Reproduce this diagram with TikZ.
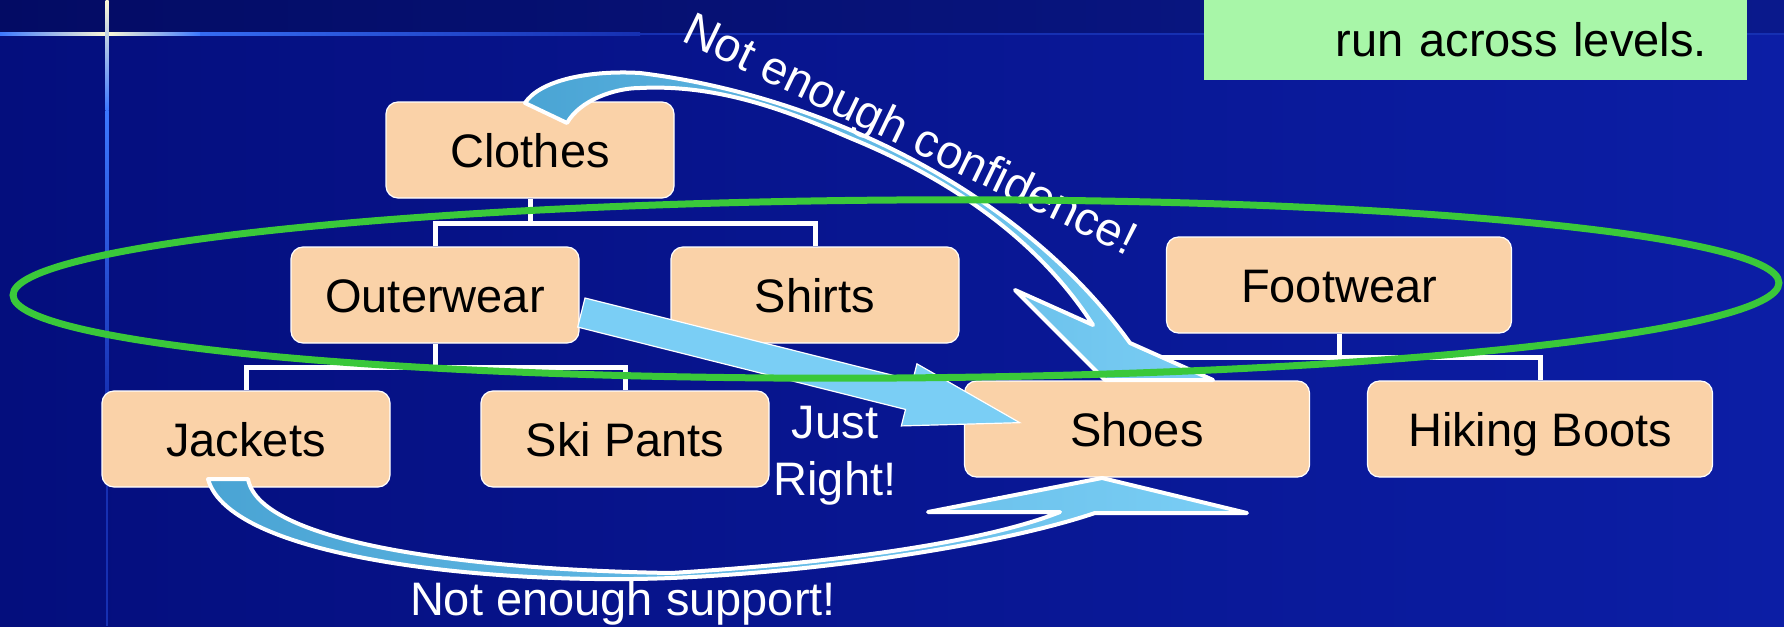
\documentclass[tikz,border=0pt]{standalone}
\usepackage{fontspec}
\setmainfont{Liberation Sans}
\usepackage{xcolor}
\usepackage{tikz}
\usetikzlibrary{calc}
\usetikzlibrary{decorations.text}
\newcommand{\bigtxt}{\fontsize{47}{57}\selectfont}
\definecolor{peach}{RGB}{250,210,168}
\definecolor{skyarrow}{RGB}{122,206,245}
\definecolor{darkarrow}{RGB}{74,164,212}
\definecolor{ringgreen}{RGB}{58,200,58}
\definecolor{notegreen}{RGB}{168,246,168}
\definecolor{bgleft}{RGB}{4,14,125}
\definecolor{bgright}{RGB}{12,30,165}
\definecolor{glow}{RGB}{60,120,255}
\definecolor{glowdim}{RGB}{22,48,178}
\definecolor{glowhot}{RGB}{255,250,215}
\tikzstyle{box} = [rectangle, draw=white, line width=1.2pt, fill=peach, rounded corners=12pt, minimum width=288pt, minimum height=96pt, inner sep=0pt, font=\bigtxt, text height=34pt, text depth=0pt]
\tikzstyle{wbox} = [box, minimum width=345pt]
\tikzstyle{conn} = [draw=white, line width=5pt]
\tikzstyle{blk} = [draw=white, line width=4pt, line join=round, left color=darkarrow, right color=skyarrow]
\tikzstyle{lab} = [text=white, font=\bigtxt, inner sep=0pt]
\tikzstyle{note} = [rectangle, fill=notegreen, anchor=south east, text width=463pt, align=right, inner xsep=40pt, inner ysep=0pt, minimum height=80pt, font=\bigtxt, text height=34pt, text depth=0pt]

\begin{document}
\begin{tikzpicture}
    [x=1pt, y=-1pt]
    \useasboundingbox (0,0) rectangle (1784,626);
    % backdrop
    \shade[left color=bgleft, right color=bgright] (0,0) rectangle (1784,626);
    \shade[left color=bgleft!80!black, right color=bgright!85!black] (0,0) rectangle (1784,33);
    \draw[line width=2pt, glowdim] (0,34) -- (1784,34);
    \draw[line width=2pt, glowdim] (107,0) -- (107,626);
    \shade[left color=glow, right color=glowdim] (107,32.5) rectangle (640,35.5);
    \shade[left color=glow, right color=glowhot] (0,32.5) rectangle (107,35.5);
    \shade[left color=glowhot, right color=glow] (107,32.5) rectangle (200,35.5);
    \shade[top color=glowhot, bottom color=glow] (105.5,0) rectangle (108.5,110);
    \shade[top color=glow, bottom color=glowdim] (105.5,110) rectangle (108.5,400);

    \node[box] (clothes) at (530,150) {Clothes};
    \node[box] (outer) at (435,295) {Outerwear};
    \node[box] (shirts) at (815,295) {Shirts};
    \node[wbox] (foot) at (1339,285) {Footwear};
    \node[box] (jackets) at (246,439) {Jackets};
    \node[box] (ski) at (625,439) {Ski Pants};
    \node[wbox] (shoes) at (1137,429) {Shoes};
    \node[wbox] (boots) at (1540,429) {Hiking Boots};

    \draw[conn] (clothes.south) -- ++(0,25) coordinate (c1);
    \draw[conn] (outer.north) |- (c1) -| (shirts.north);
    \draw[conn] (outer.south) -- ++(0,24) coordinate (c2);
    \draw[conn] (jackets.north) |- (c2) -| (ski.north);
    \draw[conn] (foot.south) -- ++(0,24) coordinate (c3);
    \draw[conn] (shoes.north) |- (c3) -| (boots.north);

    % curved arrow over the top
    \shadedraw[blk] (525,103) .. controls (540,80) and (590,70) .. (640,73)
        .. controls (820,95) and (1020,190) .. (1130,343) -- (1213,380) -- (1105,380)
        -- (1015,290) -- (1093,325) .. controls (1045,250) and (965,185) .. (850,138)
        .. controls (790,112) and (720,84) .. (640,88)
        .. controls (615,88) and (580,100) .. (567,123) -- cycle;
    % curved arrow underneath
    \shadedraw[blk] (208,479) .. controls (230,560) and (500,585) .. (671,578)
        .. controls (820,572) and (1000,545) .. (1095,513) -- (1247,513) -- (1102,478)
        -- (928,512) -- (1060,512) .. controls (990,540) and (850,562) .. (671,573)
        .. controls (480,570) and (260,545) .. (248,479) -- cycle;
    % straight arrow
    \begin{scope}[shift={(585,298)}, rotate=-14.1]
        \filldraw[fill=skyarrow, draw=white, line width=1.2pt] (0,0) -- (338,0) -- (338,-17)
            -- (452,15) -- (338,47) -- (338,30) -- (0,30) -- cycle;
    \end{scope}

    \node[lab, align=center] (just) at (835,456) {Just\\Right!};
    \node[lab, anchor=base] (support) at (623,615) {Not enough support!};
    \path[decorate, decoration={text along path, text={|\bigtxt|Not enough confidence!}, text color=white}]
        (680,40) .. controls (835,115) and (990,188) .. (1145,265);

    \draw[ringgreen, line width=7pt, rotate around={0.4:(896,289)}] (896,289) ellipse [x radius=883pt, y radius=89pt];
    \node[note] (levels) at (1747,80) {run across levels.};
\end{tikzpicture}
\end{document}
